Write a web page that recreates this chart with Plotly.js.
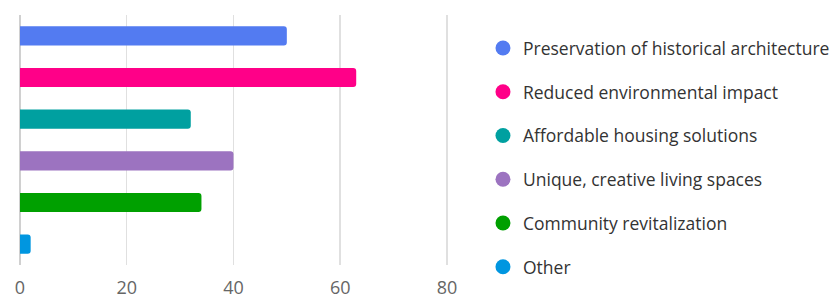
<!DOCTYPE html>
<html>
<head>
<meta charset="utf-8">
<script src="https://cdn.plot.ly/plotly-3.0.1.min.js"></script>
<style>html,body{margin:0;padding:0;background:#fff;}#chart{width:832px;height:298px;}</style>
</head>
<body>
<div id="chart"></div>
<script>
const categories = [
  "Preservation of historical architecture",
  "Reduced environmental impact",
  "Affordable housing solutions",
  "Unique, creative living spaces",
  "Community revitalization",
  "Other"
];
const values = [50, 63, 32, 40, 34, 2];
const colors = ["#537BF1", "#FF0088", "#00A0A0", "#9C73C0", "#00A000", "#0096E0"];
const xTicks = [0, 20, 40, 60, 80];

const traces = [];
categories.forEach((c, i) => {
  traces.push({
    type: "bar",
    orientation: "h",
    x: [values[i]],
    y: [c],
    width: 0.46,
    marker: {color: colors[i], cornerradius: 3},
    showlegend: false,
    hoverinfo: "x+y"
  });
});
categories.forEach((c, i) => {
  traces.push({
    type: "scatter",
    mode: "markers",
    x: [null],
    y: [null],
    name: c,
    legendgroup: "g" + i,
    marker: {color: colors[i], size: 15, symbol: "circle"},
    showlegend: true
  });
});

const layout = {
  width: 832,
  height: 298,
  margin: {l: 20, r: 384, t: 15, b: 33},
  paper_bgcolor: "#fff",
  plot_bgcolor: "#fff",
  font: {family: "Open Sans, Noto Sans, sans-serif", size: 16, color: "#666"},
  barmode: "overlay",
  showlegend: true,
  xaxis: {
    range: [0, 80.2],
    tickvals: xTicks,
    ticktext: xTicks.map(String),
    showgrid: true,
    gridcolor: "#e0e0e0",
    gridwidth: 1.5,
    zeroline: true,
    zerolinecolor: "#d0d0d0",
    zerolinewidth: 1.5,
    showline: false,
    ticks: "",
    ticklabelstandoff: 10,
    tickfont: {size: 18, color: "#666"},
    fixedrange: true
  },
  yaxis: {
    type: "category",
    categoryorder: "array",
    categoryarray: categories,
    autorange: "reversed",
    showticklabels: false,
    showgrid: false,
    zeroline: false,
    ticks: "",
    fixedrange: true
  },
  legend: {
    xref: "container",
    yref: "container",
    x: 0.5805,
    xanchor: "left",
    y: 0.899,
    yanchor: "top",
    maxheight: 298,
    font: {size: 17.5, color: "#333"},
    tracegroupgap: 18,
    bgcolor: "rgba(0,0,0,0)",
    borderwidth: 0
  }
};

Plotly.newPlot("chart", traces, layout, {displayModeBar: false, staticPlot: true});
</script>
</body>
</html>
